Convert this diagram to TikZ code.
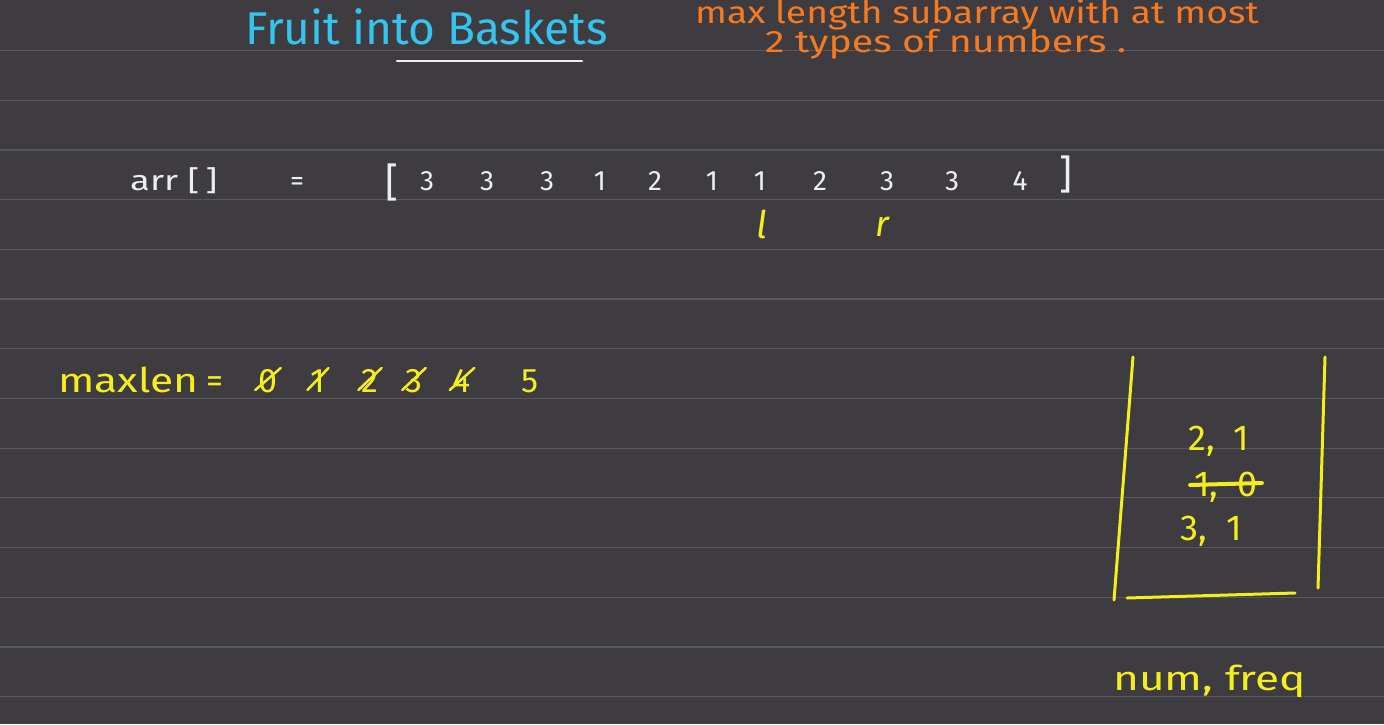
\documentclass[tikz,border=0pt]{standalone}
\usepackage{fontspec}
\usepackage{graphicx}
\setmainfont{Fira Sans}
\definecolor{bg}{HTML}{3E3C40}
\definecolor{rulec}{HTML}{58575B}
\definecolor{cyanink}{HTML}{35C4EE}
\definecolor{orangeink}{HTML}{F57A22}
\definecolor{yellowink}{HTML}{F4EE1E}
\definecolor{whiteink}{HTML}{EEEEEE}
\newcommand{\wide}[2]{\scalebox{#1}[1]{#2}}
\begin{document}
\begin{tikzpicture}[x=1pt,y=-1pt,
  rulestyle/.style={rulec,line width=1.2pt},
  cyantxt/.style={text=cyanink,font=\fontsize{46}{50}\selectfont,inner sep=0pt},
  orangetxt/.style={text=orangeink,font=\fontsize{31}{36}\selectfont,inner sep=0pt},
  whitetxt/.style={text=whiteink,font=\fontsize{28}{32}\selectfont,inner sep=0pt,anchor=base},
  yellowtxt/.style={text=yellowink,font=\fontsize{34}{38}\selectfont,inner sep=0pt,anchor=base},
  maptxt/.style={yellowtxt,font=\fontsize{36}{40}\selectfont},
  mapline/.style={yellowink,line width=3pt,line cap=round},
  strike/.style={yellowink,line width=2.5pt,line cap=round},
  underl/.style={whiteink,line width=2.5pt,line cap=round}]
\fill[bg] (0,0) rectangle (1384,724);
\useasboundingbox (0,0) rectangle (1384,724);
\foreach \k in {0,...,13} \draw[rulestyle] (0,50.5+49.7*\k) -- (1384,50.5+49.7*\k);
% title
\node[cyantxt,anchor=base west] (title) at (245,44) {Fruit into Baskets};
\coordinate (ulA) at (397,61);
\coordinate (ulB) at (582,61);
\draw[underl] (ulA) -- (ulB);
% orange note
\node[orangetxt,anchor=base west] (note1) at (695,23) {\wide{1.2}{max length subarray with at most}};
\node[orangetxt,anchor=base west] (note2) at (765,52) {\wide{1.27}{2 types of numbers .}};
% array
\node[whitetxt,anchor=base west] (arr) at (130,190) {\wide{1.3}{arr\ [\,]}};
\node[whitetxt] (eq) at (297,190) {=};
\node[whitetxt,font=\fontsize{40}{44}\selectfont] (lb) at (392,196) {[};
\node[whitetxt] (a0) at (427,190) {3};
\node[whitetxt] (a1) at (487,190) {3};
\node[whitetxt] (a2) at (547,190) {3};
\node[whitetxt] (a3) at (600,190) {1};
\node[whitetxt] (a4) at (655,190) {2};
\node[whitetxt] (a5) at (712,190) {1};
\node[whitetxt] (a6) at (760,190) {1};
\node[whitetxt] (a7) at (820,190) {2};
\node[whitetxt] (a8) at (887,190) {3};
\node[whitetxt] (a9) at (952,190) {3};
\node[whitetxt] (a10) at (1020,190) {4};
\node[whitetxt,font=\fontsize{40}{44}\selectfont] (rb) at (1066,188) {]};
\node[yellowtxt,font=\fontsize{38}{42}\selectfont\itshape] (lptr) at (762,238) {l};
\node[yellowtxt,font=\fontsize{36}{40}\selectfont\itshape] (rptr) at (882,236) {r};
% maxlen
\node[yellowtxt,anchor=base west] (maxlen) at (58,392) {\wide{1.25}{maxlen}};
\node[yellowtxt] (meq) at (215,392) {=};
\node[yellowtxt] (m0) at (268,392) {0};
\node[yellowtxt] (m1) at (318,392) {1};
\node[yellowtxt] (m2) at (370,392) {2};
\node[yellowtxt] (m3) at (414,392) {3};
\node[yellowtxt] (m4) at (462,392) {4};
\node[yellowtxt] (m5) at (530,392) {5};
\foreach \n in {m0,m1,m2,m3,m4}
  \draw[strike] ([xshift=-3pt,yshift=2pt]\n.base west) -- ([xshift=3pt,yshift=24pt]\n.base east);
% map box
\coordinate (L1) at (1133,357);
\coordinate (L2) at (1114,600);
\coordinate (R1) at (1325,357);
\coordinate (R2) at (1318,588);
\coordinate (B1) at (1127,598);
\coordinate (B2) at (1295,593);
\draw[mapline] (L1) -- (L2);
\draw[mapline] (R1) -- (R2);
\draw[mapline] (B1) -- (B2);
\node[maptxt] (e1) at (1219,450) {2,\ \ 1};
\node[maptxt] (e2) at (1226,496) {1,\ \ 0};
\draw[strike,line width=4pt] ([xshift=-4pt,yshift=11pt]e2.base west) -- ([xshift=4pt,yshift=13pt]e2.base east);
\node[maptxt] (e3) at (1211,540) {3,\ \ 1};
\node[yellowtxt,anchor=base west] (numfreq) at (1113,690) {\wide{1.3}{num,\ freq}};
\end{tikzpicture}
\end{document}
